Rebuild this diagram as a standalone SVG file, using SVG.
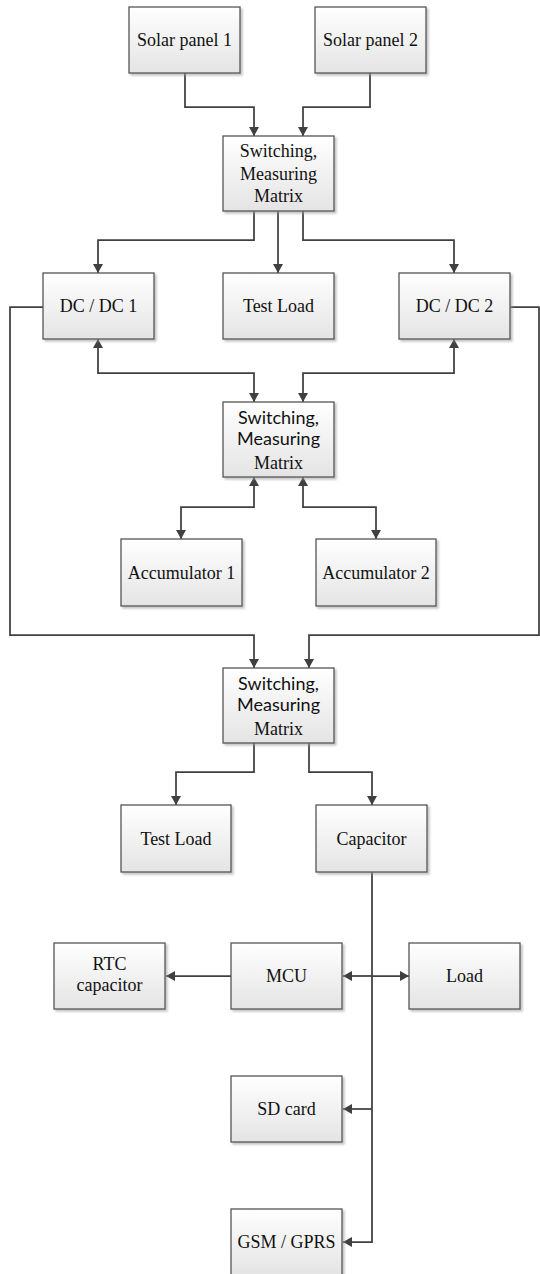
<svg xmlns="http://www.w3.org/2000/svg" width="540" height="1274" viewBox="0 0 540 1274">
<style>
.box{fill:url(#g);stroke:#555;stroke-width:1.3;filter:url(#sh)}
.t{font-family:"Liberation Serif","Times New Roman",serif;font-size:18px;fill:#111;text-anchor:middle}
.s{font-family:Lato,"Liberation Sans",sans-serif;font-size:18px;fill:#111;text-anchor:middle}
.c{fill:none;stroke:#404040;stroke-width:1.75}
.a{marker-end:url(#ar)}
.b{marker-start:url(#ar);marker-end:url(#ar)}
</style>
<defs>
<linearGradient id="g" x1="0" y1="0" x2="0" y2="1">
<stop offset="0" stop-color="#ffffff"/>
<stop offset="1" stop-color="#e4e4e4"/>
</linearGradient>
<filter id="sh" x="-10%" y="-10%" width="125%" height="130%">
<feDropShadow dx="2" dy="2" stdDeviation="0.8" flood-color="#999" flood-opacity="0.6"/>
</filter>
<marker id="ar" viewBox="0 0 9 10" markerUnits="userSpaceOnUse" markerWidth="9" markerHeight="10" refX="9" refY="5" orient="auto-start-reverse">
<path d="M0,0 L9,5 L0,10 z" fill="#404040"/>
</marker>
</defs>
<rect width="540" height="1274" fill="#fff"/>
<g id="connectors">
<path class="c a" d="M185,73 V107 H254 V136"/>
<path class="c a" d="M370,73 V107 H303 V136"/>
<path class="c a" d="M254,211 V240 H98 V273"/>
<path class="c a" d="M278,211 V273"/>
<path class="c a" d="M303,211 V240 H454 V273"/>
<path class="c b" d="M98,339 V373 H254 V402"/>
<path class="c b" d="M454,339 V373 H303 V402"/>
<path class="c b" d="M254,477 V507 H181 V539"/>
<path class="c b" d="M303,477 V507 H376 V539"/>
<path class="c a" d="M43,307 H10 V635 H254 V668"/>
<path class="c a" d="M510,307 H539 V635 H309 V668"/>
<path class="c a" d="M254,743 V772 H176 V805"/>
<path class="c a" d="M309,743 V772 H372 V805"/>
<path class="c a" d="M372,872 V1242 H343"/>
<path class="c a" d="M231,976 H166"/>
<path class="c a" d="M372,976 H343"/>
<path class="c a" d="M372,976 H409"/>
<path class="c a" d="M372,1109 H343"/>
</g>
<g id="solar1"><rect class="box" x="129" y="7" width="111" height="66"/><text class="t" x="184.5" y="46">Solar panel 1</text></g>
<g id="solar2"><rect class="box" x="315" y="7" width="111" height="66"/><text class="t" x="370.5" y="46">Solar panel 2</text></g>
<g id="matrix1"><rect class="box" x="223" y="136" width="111" height="75"/>
<text class="t" x="278.5" y="157">Switching,</text><text class="t" x="278.5" y="180">Measuring</text><text class="t" x="278.5" y="202">Matrix</text></g>
<g id="dcdc1"><rect class="box" x="43" y="273" width="111" height="66"/><text class="t" x="98.5" y="312">DC / DC 1</text></g>
<g id="testload1"><rect class="box" x="223" y="273" width="111" height="66"/><text class="t" x="278.5" y="312">Test Load</text></g>
<g id="dcdc2"><rect class="box" x="399" y="273" width="111" height="66"/><text class="t" x="454.5" y="312">DC / DC 2</text></g>
<g id="matrix2"><rect class="box" x="223" y="402" width="111" height="75"/>
<text class="s" x="278.5" y="424">Switching,</text><text class="s" x="278.5" y="444.5">Measuring</text><text class="t" x="278.5" y="468.5">Matrix</text></g>
<g id="acc1"><rect class="box" x="121" y="539" width="121" height="67"/><text class="t" x="181.5" y="579">Accumulator 1</text></g>
<g id="acc2"><rect class="box" x="316" y="539" width="120" height="67"/><text class="t" x="376" y="579">Accumulator 2</text></g>
<g id="matrix3"><rect class="box" x="223" y="668" width="111" height="75"/>
<text class="s" x="278.5" y="690">Switching,</text><text class="s" x="278.5" y="710.5">Measuring</text><text class="t" x="278.5" y="734.5">Matrix</text></g>
<g id="testload2"><rect class="box" x="121" y="805" width="110" height="67"/><text class="t" x="176" y="845">Test Load</text></g>
<g id="capacitor"><rect class="box" x="316" y="805" width="111" height="67"/><text class="t" x="371.5" y="845">Capacitor</text></g>
<g id="rtc"><rect class="box" x="54" y="943" width="111" height="66"/><text class="t" x="109.5" y="970">RTC</text><text class="t" x="109.5" y="991">capacitor</text></g>
<g id="mcu"><rect class="box" x="231" y="943" width="111" height="66"/><text class="t" x="286.5" y="982">MCU</text></g>
<g id="load"><rect class="box" x="409" y="943" width="111" height="66"/><text class="t" x="464.5" y="982">Load</text></g>
<g id="sdcard"><rect class="box" x="231" y="1076" width="111" height="66"/><text class="t" x="286.5" y="1115">SD card</text></g>
<g id="gsm"><rect class="box" x="231" y="1209" width="111" height="66"/><text class="t" x="286.5" y="1248">GSM / GPRS</text></g>
</svg>
